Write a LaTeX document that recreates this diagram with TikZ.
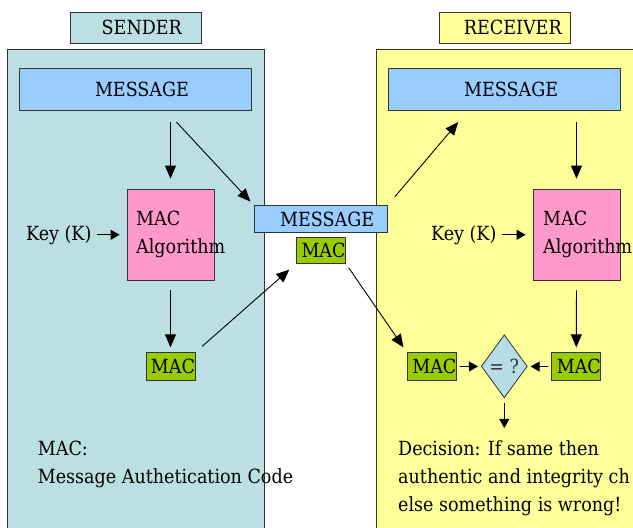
\documentclass[tikz,border=0pt]{standalone}
\usepackage{fontspec}
\setmainfont{DejaVu Serif Condensed}
\usetikzlibrary{arrows.meta,shapes.geometric}
\definecolor{sendbg}{HTML}{BBDFE2}
\definecolor{recvbg}{HTML}{FFFF99}
\definecolor{msgblue}{HTML}{99CCFF}
\definecolor{algpink}{HTML}{FF99CC}
\definecolor{macgreen}{HTML}{99CC00}
\definecolor{eqblue}{HTML}{B7DDE6}
\definecolor{edge}{HTML}{333333}
\newcommand{\macword}{\makebox[49pt][l]{\hspace{5pt}MAC}}
\begin{document}
\begin{tikzpicture}[x=1pt,y=-1pt,
  font=\fontsize{19.5}{28}\selectfont,
  box/.style={draw=edge,line width=0.8pt,inner sep=0pt},
  tag/.style={box,minimum width=131pt,minimum height=31pt},
  msg/.style={box,fill=msgblue,minimum height=42pt},
  alg/.style={box,fill=algpink,minimum width=87pt,minimum height=91pt},
  mac/.style={box,fill=macgreen,minimum width=49pt,minimum height=28pt},
  txt/.style={inner sep=0pt,align=left},
  arr/.style={line width=0.9pt,-{Triangle[length=13pt,width=11pt]}},
  tip/.style={line width=0.9pt,-{Triangle[length=9pt,width=10pt]}}]
\useasboundingbox (0,0) rectangle (633,528);
% the two sides
\filldraw[fill=sendbg,draw=edge,line width=0.8pt] (7,528) -- (7,49) -- (264,49) -- (264,528);
\filldraw[fill=recvbg,draw=edge,line width=0.8pt] (376,528) -- (376,49) -- (633,49) -- (633,528);
\node[tag,fill=sendbg] (stag) at (135.8,27.8) {\hspace*{12pt}SENDER};
\node[tag,fill=recvbg] (rtag) at (504.8,27.8) {\hspace*{16pt}RECEIVER};
% sender (base of a text block = its last line)
\node[msg,minimum width=232pt] (smsg) at (135.5,89.7) {\hspace*{13pt}MESSAGE};
\node[alg] (salg) at (170.5,234.5) {};
\node[txt,anchor=base west] (salgtxt) at (136,253) {MAC\\Algorithm};
\node[txt,anchor=base west] (skey) at (26,240) {Key (K)};
\node[mac] (smac) at (170.5,366.7) {\macword};
\node[txt,anchor=base west] (note) at (37.7,483) {MAC:\\Message Authetication Code};
% in between
\node[msg,minimum width=133pt,minimum height=27pt] (mmsg) at (320.7,219.2) {\hspace*{13pt}MESSAGE};
\node[mac,minimum height=26pt] (mmac) at (321,250.3) {\macword};
% receiver
\node[msg,minimum width=232pt] (rmsg) at (504.7,89.7) {\hspace*{13pt}MESSAGE};
\node[alg] (ralg) at (576.5,234.5) {};
\node[txt,anchor=base west] (ralgtxt) at (543,253) {MAC\\Algorithm};
\node[txt,anchor=base west] (rkey) at (431,240) {Key (K)};
\node[mac] (rmacl) at (431.8,366.7) {\macword};
\node[mac] (rmacr) at (576.3,366.7) {\macword};
\node[diamond,draw=edge,line width=0.8pt,fill=eqblue,inner sep=0pt,minimum width=46pt,minimum height=63pt,
  label={[text=edge]center:{= ?}}] (eq) at (504.3,366.3) {};
\node[txt,anchor=base west] (dec) at (398,511) {Decision: If same then\\authentic and integrity ch\\else something is wrong!};
% arrows
\draw[arr,shorten <=11pt,shorten >=10pt] (salg.north |- smsg.south) -- (salg);
\draw[arr,shorten >=5pt] ([shift={(41,11)}]smsg.south) -- (mmsg.north west);
\draw[tip,shorten <=5pt,shorten >=7pt] (skey.east) -- (salg.west |- skey.east);
\draw[arr,shorten <=10pt,shorten >=5pt] (salg.south) -- (smac.north);
\draw[arr,shorten <=9pt,shorten >=9pt] (smac.north east) -- (mmac.south west);
\draw[arr,shorten <=11pt] (mmsg.north east) -- ([shift={(-46.5,11)}]rmsg.south);
\draw[arr,shorten <=5pt,shorten >=6pt] (mmac.south east) -- (rmacl.north west);
\draw[arr,shorten <=11pt,shorten >=10pt] (ralg.north |- rmsg.south) -- (ralg);
\draw[tip,shorten <=5pt,shorten >=7pt] (rkey.east) -- (ralg.west |- rkey.east);
\draw[arr,shorten <=10pt,shorten >=5pt] (ralg.south) -- (rmacr.north);
\draw[tip,shorten <=3pt,shorten >=3pt] (rmacl) -- (eq);
\draw[tip,shorten <=3pt,shorten >=3pt] (rmacr) -- (eq);
\draw[tip,shorten <=5pt,shorten >=12pt] (eq.south) -- (eq.south |- dec.north);
\end{tikzpicture}
\end{document}
